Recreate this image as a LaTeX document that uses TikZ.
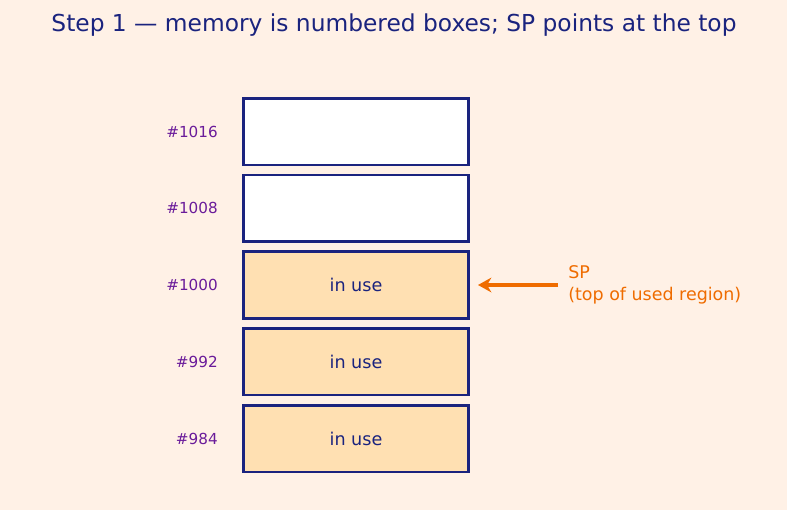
\documentclass[tikz,border=0pt]{standalone}
\usepackage{fontspec}
\setmainfont{DejaVu Sans}
\usetikzlibrary{arrows.meta}
\definecolor{bgcol}{HTML}{FFF1E6}
\definecolor{navy}{HTML}{1A237E}
\definecolor{usedfill}{HTML}{FFE0B2}
\definecolor{addrcol}{HTML}{6A1B9A}
\definecolor{spcol}{HTML}{EF6C00}
\tikzset{
  cell/.style={draw=navy, line width=2pt, minimum width=169pt, minimum height=50pt,
               inner sep=0pt, text=navy, font=\fontsize{13.2}{16}\selectfont},
  addr/.style={anchor=east, inner sep=0pt, text=addrcol, font=\fontsize{11.4}{13}\selectfont},
  pointer/.style={draw=spcol, line width=2.6pt, -{Stealth[length=10pt,width=11pt]}}
}
\begin{document}
\begin{tikzpicture}[x=0.75pt,y=-0.75pt]
	% background and page size
	\fill[bgcol] (0,0) rectangle (787,510);
	\useasboundingbox (0,0) rectangle (787,510);
	% title
	\node[text=navy, font=\fontsize{17.5}{21}\selectfont] (title) at (394,25)
		{Step 1 — memory is numbered boxes; SP points at the top};
	% spacing of the boxes
	\def\ytop {131.5};
	\def\ystep {76.75};
	% memory boxes, top to bottom
	\foreach \addr/\fillc/\txt [count=\index] in
		{1016/white/{}, 1008/white/{}, 1000/usedfill/in use, 992/usedfill/in use, 984/usedfill/in use}
	{
		\node[cell, fill=\fillc] (b_\index) at (356, \ytop + \ystep*\index - \ystep) {\txt};
		\node[addr] (a_\index) at (218, \ytop + \ystep*\index - \ystep) {\#\addr};
	}
	% stack pointer
	\node[anchor=west, inner sep=0pt, align=left, text=spcol, font=\fontsize{13.1}{16.5}\selectfont] (sp) at (568,285)
		{SP\\(top of used region)};
	\coordinate (sp_tail) at (558,285);
	\draw[pointer, shorten >=6pt] (sp_tail) -- (b_3.east);
\end{tikzpicture}
\end{document}
